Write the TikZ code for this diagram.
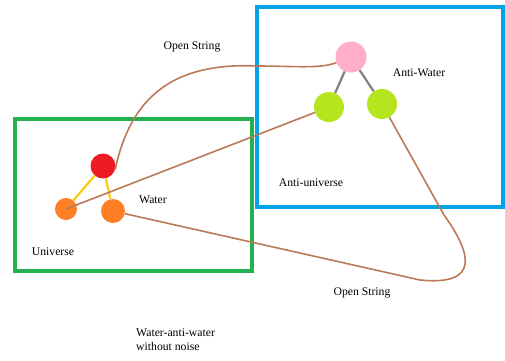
\documentclass[tikz,border=0pt]{standalone}
\usepackage{fontspec}
\setmainfont{Liberation Serif}
\usetikzlibrary{positioning,shapes.geometric}
\definecolor{boxgreen}{RGB}{34,177,76}
\definecolor{boxblue}{RGB}{0,162,232}
\definecolor{wred}{RGB}{237,28,36}
\definecolor{worange}{RGB}{255,127,39}
\definecolor{wpink}{RGB}{255,174,201}
\definecolor{wlime}{RGB}{181,230,29}
\definecolor{strbrown}{RGB}{185,122,87}
\definecolor{bondyellow}{RGB}{255,201,14}
\tikzset{
  atom/.style={
    shape = ellipse,
    minimum width = #1,
    minimum height = #1,
    inner sep = 0pt,
    fill
  },
  universe/.style={
    line width = 3.5pt
  },
  bond/.style={
    line width = 2.2pt
  },
  openstr/.style={
    line width = 1.6pt,
    strbrown
  },
  lbl/.style={
    font = \fontsize{11.7}{13.5}\selectfont,
    inner sep = 1pt
  }
}
\begin{document}
\begin{tikzpicture}[x=1pt,y=-1pt]
    \useasboundingbox (0,0) rectangle (505,360);
    % boxes
    \draw[universe, boxgreen] (15,119) rectangle (252,271);
    \draw[universe, boxblue] (257,7) rectangle (503,207);
    % water
    \node[atom=25pt, wred] (hub) at (103,166) {};
    \node[atom=22pt, worange] (oleft) at (66,209) {};
    \node[atom=24pt, worange] (oright) at (113,211) {};
    % anti-water
    \node[atom=31pt, wpink] (ahub) at (351,57) {};
    \node[atom=30pt, wlime] (aleft) at (329,107) {};
    \node[atom=30pt, wlime] (aright) at (382,104) {};
    \draw[bond, bondyellow] (hub) -- (oleft);
    \draw[bond, bondyellow] (hub) -- (oright);
    \draw[bond, gray] (ahub) -- (aleft);
    \draw[bond, gray] (ahub) -- (aright);
    % open strings
    \coordinate (top) at (257,66);
    \coordinate (low) at (420,280);
    \coordinate (turn) at (444,215);
    \draw[openstr] (hub.-15) .. controls (130,100) and (170,62) .. (top)
        .. controls (295,66) and (320,69) .. (ahub);
    \draw[openstr] (oleft.center) -- (aleft);
    \draw[openstr] (oright) -- (low) .. controls (480,286) and (472,254) .. (turn) -- (aright);
    % labels
    \node[lbl] (os1) at (192,47) {Open String};
    \node[lbl] (os2) at (362,293) {Open String};
    \node[lbl] (wat) at (153,200) {Water};
    \node[lbl] (awat) at (419,73) {Anti-Water};
    \node[lbl] (uni) at (53,252) {Universe};
    \node[lbl] (auni) at (311,183) {Anti-universe};
    \node[lbl, anchor=north west, align=left] (cap) at (135,328) {Water-anti-water\\without noise};
\end{tikzpicture}
\end{document}
